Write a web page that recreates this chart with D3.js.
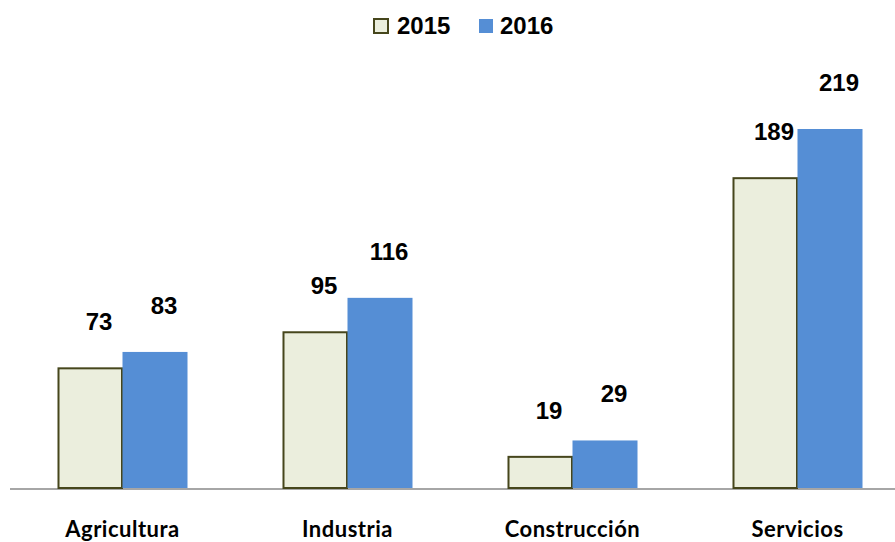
<!DOCTYPE html>
<html>
<head>
<meta charset="utf-8">
<script src="https://cdn.jsdelivr.net/npm/d3@7.9.0/dist/d3.min.js"></script>
<style>
  body { margin: 0; background: #fff; }
  svg { display: block; }
</style>
</head>
<body>
<svg id="chart" width="895" height="542"></svg>
<script>
const categories = ["Agricultura", "Industria", "Construcción", "Servicios"];
const seriesNames = ["2015", "2016"];
const values2015 = [73, 95, 19, 189];
const values2016 = [83, 116, 29, 219];

const fills = { "2015": "#ebeedd", "2016": "#558ed5" };
const strokes = { "2015": "#46461c", "2016": "none" };

const svg = d3.select("#chart");
const baseY = 488;

const x = d3.scaleBand().domain(categories).range([10, 910]).paddingInner(0.4222).paddingOuter(0.2111);
const inner = d3.scaleBand().domain(seriesNames).range([0, x.bandwidth()]);
const y = d3.scaleLinear().domain([0, 219]).range([baseY, 129]);

const rows = categories.map((c, i) => ({ cat: c, vals: [values2015[i], values2016[i]] }));

// axis line
svg.append("line")
  .attr("x1", 10).attr("x2", 895)
  .attr("y1", baseY + 1).attr("y2", baseY + 1)
  .attr("stroke", "#a6a6a6").attr("stroke-width", 2);

const groups = svg.selectAll("g.cat")
  .data(rows)
  .enter()
  .append("g")
  .attr("class", "cat")
  .attr("transform", (d) => `translate(${x(d.cat)},0)`);

groups.selectAll("rect")
  .data((d) => d.vals.map((v, i) => ({ s: seriesNames[i], v })))
  .enter()
  .append("rect")
  .attr("x", (d) => inner(d.s) + (d.s === "2015" ? 1 : 0))
  .attr("y", (d) => y(d.v))
  .attr("width", (d) => inner.bandwidth() - (d.s === "2015" ? 1.5 : 0))
  .attr("height", (d) => baseY - y(d.v))
  .attr("fill", (d) => fills[d.s])
  .attr("stroke", (d) => strokes[d.s])
  .attr("stroke-width", 2);

groups.selectAll("text.val")
  .data((d) => d.vals.map((v, i) => ({ s: seriesNames[i], v })))
  .enter()
  .append("text")
  .attr("class", "val")
  .attr("x", (d) => inner(d.s) + inner.bandwidth() / 2 + 9)
  .attr("y", (d) => y(d.v) - 38)
  .attr("text-anchor", "middle")
  .attr("font-family", "Liberation Sans, Arial, sans-serif")
  .attr("font-weight", "bold")
  .attr("font-size", 24)
  .attr("fill", "#000")
  .text((d) => d.v);

// category labels
svg.selectAll("text.cat")
  .data(categories)
  .enter()
  .append("text")
  .attr("class", "cat")
  .attr("x", (d) => x(d) + x.bandwidth() / 2)
  .attr("y", 537)
  .attr("text-anchor", "middle")
  .attr("font-family", "Lato, sans-serif")
  .attr("font-weight", "bold")
  .attr("font-size", 22)
  .attr("letter-spacing", 0.5)
  .attr("fill", "#000")
  .text((d) => d);

// legend
const legendX = [374, 479];
const legend = svg.selectAll("g.legend")
  .data(seriesNames)
  .enter()
  .append("g")
  .attr("class", "legend")
  .attr("transform", (d, i) => `translate(${legendX[i]},19)`);

legend.append("rect")
  .attr("x", 0)
  .attr("y", 0)
  .attr("width", 14).attr("height", 14)
  .attr("fill", (d) => fills[d])
  .attr("stroke", (d) => strokes[d])
  .attr("stroke-width", 2);

legend.append("text")
  .attr("x", (d) => (d === "2015" ? 23 : 21))
  .attr("y", 15)
  .attr("font-family", "Liberation Sans, Arial, sans-serif")
  .attr("font-weight", "bold")
  .attr("font-size", 24)
  .text((d) => d);
</script>
</body>
</html>
